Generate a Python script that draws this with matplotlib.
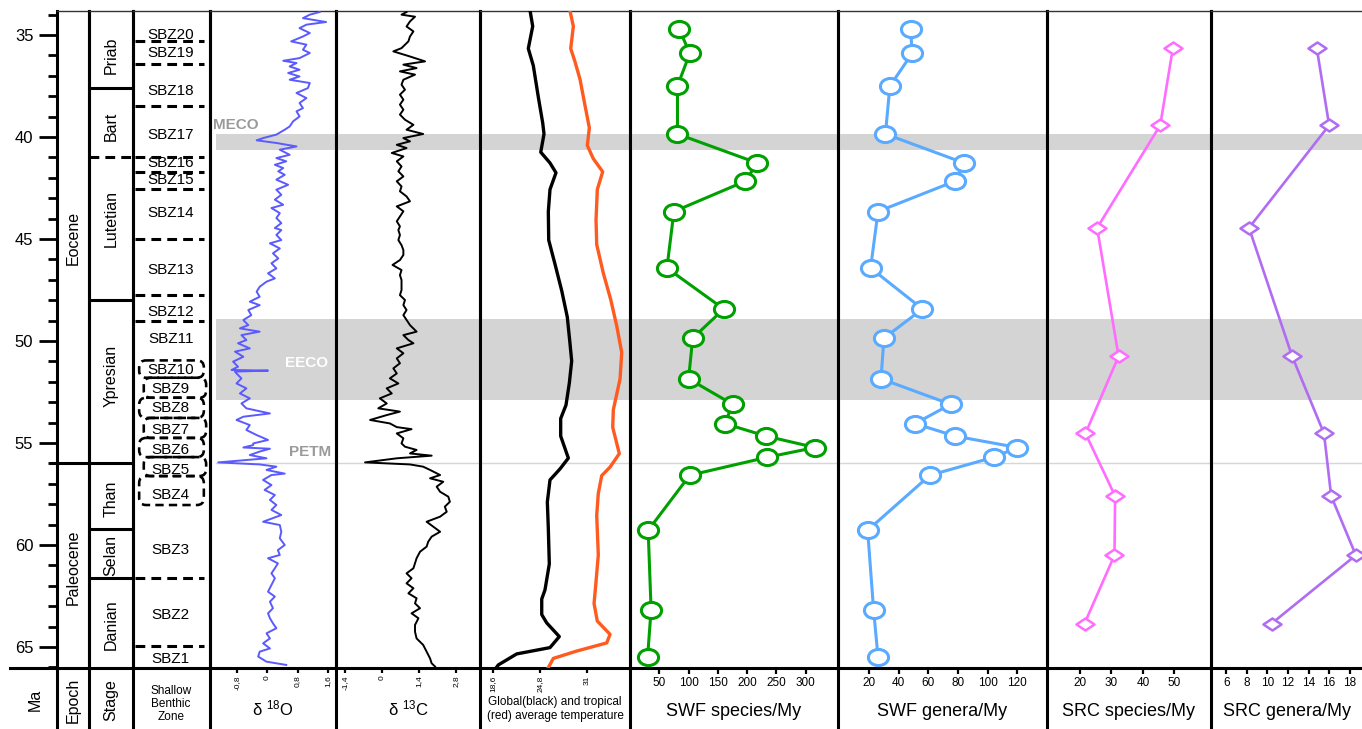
"""Paleocene-Eocene stratigraphy vs. isotopes, temperature and foraminifera turnover rates."""
import matplotlib
matplotlib.use("Agg")
import matplotlib.pyplot as plt
import numpy as np
from matplotlib.lines import Line2D
from matplotlib.patches import FancyBboxPatch
from matplotlib.path import Path

plt.rcParams["font.family"] = ["Liberation Sans", "DejaVu Sans"]
plt.rcParams["mathtext.fontset"] = "custom"
plt.rcParams["mathtext.rm"] = "Liberation Sans"

# ---------------- stratigraphy ----------------
EPOCHS = ["Eocene", "Paleocene"]
EPOCH_MID = [44.95, 61.1]
EPOCH_BOUND = 56.0
STAGES = ["Priab", "Bart", "Lutetian", "Ypresian", "Than", "Selan", "Danian"]
STAGE_MID = [35.98, 39.46, 44.0, 51.7, 57.75, 60.5, 63.9]
STAGE_BOUNDS = [37.6, 48.0, 59.2, 61.6]
STAGE_BOUND_DASHED = 41.0
SBZ_NAMES = ["SBZ20", "SBZ19", "SBZ18", "SBZ17", "SBZ16", "SBZ15", "SBZ14", "SBZ13", "SBZ12",
             "SBZ11", "SBZ10", "SBZ9", "SBZ8", "SBZ7", "SBZ6", "SBZ5", "SBZ4", "SBZ3", "SBZ2", "SBZ1"]
SBZ_MID = [34.98, 35.9, 37.75, 39.9, 41.27, 42.1, 43.7, 46.5, 48.6, 49.9,
           51.4, 52.35, 53.3, 54.35, 55.35, 56.3, 57.55, 60.25, 63.45, 65.6]
SBZ_BOUNDS = [35.3, 36.4, 38.5, 41.7, 42.55, 45.0, 47.75, 49.0, 61.6, 64.95]
SBZ_BOXES = [(50.95, 51.8), (51.8, 52.78), (52.78, 53.77), (53.77, 54.75),
             (54.75, 55.69), (55.69, 56.62), (56.62, 58.04)]
MECO = (39.85, 40.64)
EECO = (48.92, 52.89)
PETM = 56.0

# ---------------- delta 18O ----------------
d18o_age = [33.87, 34.00, 34.17, 34.36, 34.49, 34.66, 34.90, 35.07, 35.31, 35.47, 35.72, 35.88,
            36.13, 36.26, 36.37, 36.54, 36.70, 36.86, 37.03, 37.19, 37.35, 37.60, 37.84, 38.09,
            38.33, 38.58, 38.74, 38.99, 39.23, 39.48, 39.64, 39.88, 40.05, 40.16, 40.29, 40.46,
            40.62, 40.87, 41.03, 41.19, 41.36, 41.52, 41.68, 41.85, 42.09, 42.34, 42.58, 42.83,
            43.07, 43.32, 43.48, 43.73, 43.97, 44.22, 44.46, 44.56, 44.80, 45.05, 45.21, 45.46,
            45.70, 45.95, 46.19, 46.44, 46.68, 46.93, 47.09, 47.34, 47.58, 47.83, 48.07, 48.24,
            48.48, 48.73, 48.97, 49.22, 49.38, 49.54, 49.71, 49.95, 50.11, 50.36, 50.52, 50.77,
            51.01, 51.26, 51.42, 51.45, 51.50, 51.59, 51.83, 52.08, 52.32, 52.57, 52.81, 53.06,
            53.30, 53.55, 53.71, 53.87, 54.12, 54.36, 54.61, 54.85, 55.02, 55.10, 55.22, 55.28,
            55.42, 55.59, 55.75, 55.95, 56.05, 56.16, 56.32, 56.50, 56.57, 56.81, 57.06, 57.30,
            57.55, 57.79, 58.04, 58.28, 58.53, 58.86, 59.02, 59.35, 59.67, 60.00, 60.25, 60.49,
            60.65, 60.90, 61.14, 61.39, 61.63, 61.96, 62.29, 62.53, 62.78, 63.10, 63.35, 63.59,
            63.84, 64.08, 64.33, 64.58, 64.82, 65.07, 65.23, 65.47, 65.72, 65.88]
d18o_val = [1.38, 1.12, 0.94, 1.55, 1.03, 0.85, 1.12, 0.94, 0.63, 1.03, 0.94, 1.12,
            0.85, 0.42, 0.77, 0.59, 0.85, 0.55, 0.85, 0.59, 1.12, 1.07, 0.77, 1.03,
            0.85, 0.94, 0.77, 0.85, 0.68, 0.59, 0.46, 0.24, -0.11, -0.28, 0.24, 0.77,
            0.33, 0.59, 0.24, 0.50, 0.20, 0.42, 0.29, 0.46, 0.24, 0.55, 0.24, 0.37,
            0.20, 0.42, 0.11, 0.33, 0.24, 0.37, 0.20, 0.37, 0.24, 0.37, 0.07, 0.33,
            0.15, 0.29, 0.11, 0.24, 0.02, 0.20, -0.02, -0.20, -0.28, -0.20, -0.46, -0.20,
            -0.50, -0.42, -0.63, -0.50, -0.72, -0.20, -0.68, -0.55, -0.77, -0.46, -0.85, -0.63,
            -0.90, -0.77, -0.94, 0.02, -0.85, -0.81, -0.68, -0.81, -0.55, -0.72, -0.46, -0.68,
            -0.55, 0.07, -0.63, -0.81, -0.46, -0.55, -0.28, 0.02, -0.37, -0.37, -0.63, 0.07,
            -0.20, -0.46, -0.02, -1.29, -0.20, 0.24, -0.02, 0.46, 0.11, -0.11, 0.11, -0.07,
            0.20, 0.07, 0.24, 0.11, 0.37, -0.11, 0.33, 0.37, 0.33, 0.46, 0.28, 0.33,
            0.02, 0.28, 0.20, 0.11, 0.20, 0.11, 0.02, 0.20, 0.07, 0.15, 0.02, 0.07,
            0.15, 0.24, -0.02, 0.07, -0.11, 0.07, -0.20, -0.24, -0.02, 0.50]

# ---------------- delta 13C ----------------
d13c_age = [33.87, 34.00, 34.10, 34.33, 34.58, 34.82, 35.07, 35.31, 35.64, 35.80, 36.05, 36.29,
            36.45, 36.62, 36.78, 36.94, 37.19, 37.43, 37.68, 37.92, 38.17, 38.41, 38.66, 38.90,
            39.15, 39.40, 39.64, 39.85, 40.05, 40.21, 40.38, 40.54, 40.78, 40.95, 41.19, 41.44,
            41.68, 41.93, 42.17, 42.42, 42.66, 42.91, 43.15, 43.40, 43.64, 43.89, 44.13, 44.38,
            44.56, 44.80, 45.05, 45.30, 45.54, 45.78, 46.03, 46.27, 46.52, 46.77, 47.01, 47.26,
            47.50, 47.75, 47.99, 48.24, 48.48, 48.73, 48.97, 49.22, 49.54, 49.71, 49.95, 50.11,
            50.36, 50.60, 50.85, 51.09, 51.34, 51.59, 51.83, 52.08, 52.32, 52.57, 52.81, 53.06,
            53.30, 53.46, 53.63, 53.87, 54.04, 54.22, 54.32, 54.53, 54.77, 55.02, 55.18, 55.34,
            55.51, 55.62, 55.75, 55.95, 56.05, 56.16, 56.32, 56.57, 56.73, 56.90, 57.14, 57.39,
            57.63, 57.88, 58.12, 58.37, 58.61, 58.86, 59.10, 59.35, 59.59, 59.84, 60.08, 60.33,
            60.65, 60.90, 61.14, 61.39, 61.63, 61.88, 62.12, 62.37, 62.61, 62.86, 63.10, 63.35,
            63.59, 63.92, 64.25, 64.58, 64.90, 65.23, 65.56, 65.80, 65.96]
d13c_val = [0.93, 0.74, 1.25, 1.06, 0.93, 1.19, 1.06, 1.00, 0.74, 0.43, 1.06, 1.63,
            0.81, 1.31, 0.68, 1.25, 0.81, 0.74, 0.87, 0.68, 0.81, 0.68, 0.81, 0.68,
            0.87, 1.19, 0.93, 1.56, 0.81, 1.06, 0.56, 0.93, 0.37, 0.81, 0.56, 0.74,
            0.62, 0.81, 0.56, 0.74, 0.68, 0.93, 1.06, 0.56, 0.81, 0.68, 0.56, 0.68,
            0.62, 0.68, 0.62, 0.74, 0.81, 0.81, 0.68, 0.40, 0.74, 0.68, 0.74, 0.74,
            0.74, 0.68, 0.87, 0.81, 0.93, 0.81, 0.93, 1.06, 1.31, 0.81, 1.00, 1.19,
            0.56, 0.81, 0.56, 0.68, 0.43, 0.56, 0.30, 0.62, 0.18, 0.37, -0.08, 0.18,
            -0.14, 0.68, 0.18, -0.45, 0.30, 0.56, 1.12, 0.56, 0.81, 0.74, 0.87, 1.31,
            1.06, 1.88, 0.56, -0.64, 1.06, 1.56, 1.82, 2.20, 1.82, 2.32, 2.07, 2.20,
            2.51, 2.57, 2.38, 2.45, 2.20, 1.69, 1.94, 2.20, 1.88, 1.75, 1.69, 1.44,
            1.31, 1.25, 1.19, 0.93, 1.12, 0.93, 1.19, 1.00, 1.31, 1.25, 1.44, 1.12,
            1.38, 1.25, 1.25, 1.31, 1.56, 1.69, 1.82, 1.88, 2.01]

# ---------------- temperature (deg C) ----------------
tglob_age = [33.82, 34.57, 35.66, 36.5, 38.04, 39.31, 39.85, 40.74, 41.27, 41.75, 42.57, 43.65,
             45.05, 46.23, 47.54, 48.82, 50.13, 50.98, 52.06, 53.14, 53.8, 54.66, 55.74, 56.27,
             56.81, 57.89, 59.2, 60.93, 62.2, 62.65, 63.41, 63.82, 64.49, 65.03, 65.34, 65.88, 66.1]
tglob_val = [23.5, 23.84, 23.26, 23.92, 24.58, 25.16, 25.33, 24.9, 26.12, 26.91, 26.12, 25.9,
             25.95, 26.78, 27.67, 28.4, 28.76, 28.98, 28.67, 28.23, 27.53, 27.53, 28.54, 27.44,
             26.12, 25.77, 25.9, 26.03, 25.46, 25.03, 25.03, 25.69, 27.35, 26.12, 21.73, 19.3, 18.87]
ttrop_age = [33.82, 34.57, 35.66, 36.31, 37.17, 38.46, 39.55, 40.41, 41.06, 41.7, 42.57, 44.07,
             45.27, 46.67, 47.97, 49.26, 50.56, 51.86, 53.37, 54.23, 55.52, 56.18, 56.6, 57.47,
             58.55, 60.49, 61.79, 62.87, 63.73, 64.38, 64.8, 65.2, 65.56, 66.1]
ttrop_val = [28.76, 29.2, 28.85, 29.42, 30.08, 30.74, 31.31, 31.04, 31.83, 33.07, 32.36, 32.19,
             32.28, 33.15, 34.13, 34.92, 35.58, 35.36, 34.47, 34.39, 35.26, 34.04, 32.94, 32.49,
             32.28, 32.49, 32.19, 31.93, 32.36, 34.04, 33.6, 29.64, 26.56, 25.77]

# ---------------- turnover rates ----------------
swf_age = [34.7, 35.9, 37.5, 39.85, 41.27, 42.16, 43.65, 46.42, 48.43, 49.86,
           51.85, 53.1, 54.05, 54.66, 55.22, 55.7, 56.58, 59.28, 63.17, 65.5]
swf_species = [84, 102, 81, 81, 217, 197, 75, 63, 160, 107,
               100, 175, 162, 232, 316, 234, 102, 31, 36, 30]
swf_genera = [48, 49, 34, 31, 84, 78, 26, 21, 56, 30,
              28, 75, 51, 78, 120, 104, 61, 19, 23, 26]
src_age = [35.65, 39.42, 44.45, 50.75, 54.53, 57.6, 60.5, 63.85]
src_species = [49.5, 45.5, 25.5, 32.3, 21.8, 31.2, 31.0, 21.5]
src_genera = [14.8, 16.0, 8.2, 12.4, 15.5, 16.2, 18.6, 10.4]

# ---------------- layout (pixels) ----------------
W, H = 1362, 729
TOP, BOT = 11, 668
AGE_TOP, AGE_BOT = 33.82, 66.03
COLS = [57, 89, 133, 210, 336, 480, 630, 838, 1047, 1211, 1362]
BAND = "#d4d4d4"
LW = 2.2

fig = plt.figure(figsize=(W / 100, H / 100), dpi=100)


def column(x0, x1):
    ax = fig.add_axes([x0 / W, 1 - BOT / H, (x1 - x0) / W, (BOT - TOP) / H])
    ax.set_facecolor("none")
    ax.set_ylim(AGE_BOT, AGE_TOP)
    ax.set_yticks([])
    ax.set_xticks([])
    for s in ("left", "right", "bottom"):
        ax.spines[s].set_linewidth(LW)
    ax.spines["top"].set_linewidth(1.0)
    ax.spines["top"].set_color("#333333")
    return ax


axE, axS, axZ = column(57, 89), column(89, 133), column(133, 210)
axO, axC, axT = column(210, 336), column(336, 480), column(480, 630)
axSS, axSG = column(630, 838), column(838, 1047)
axRS, axRG = column(1047, 1211), column(1211, 1362)
axRG.spines["right"].set_visible(False)
for ax in (axE, axS, axZ):
    ax.set_xlim(0, 1)

# Ma axis
axE.set_yticks(range(35, 66, 5))
axE.set_yticks(range(34, 67), minor=True)
axE.tick_params(axis="y", which="major", length=13, width=2, labelsize=12, pad=4)
axE.tick_params(axis="y", which="minor", length=6.5, width=2)

dash = (0, (3.2, 2.0))
for name, y in zip(EPOCHS, EPOCH_MID):
    axE.text(0.5, y, name, rotation=90, ha="center", va="center", fontsize=11.5)
axE.axhline(EPOCH_BOUND, color="k", lw=LW)
axE.plot([-0.2, 0], [EPOCH_BOUND] * 2, color="k", lw=LW, clip_on=False)
for name, y in zip(STAGES, STAGE_MID):
    axS.text(0.5, y, name, rotation=90, ha="center", va="center", fontsize=11.5)
for y in STAGE_BOUNDS + [EPOCH_BOUND]:
    axS.axhline(y, color="k", lw=LW)
axS.axhline(STAGE_BOUND_DASHED, color="k", lw=LW, ls=dash)

# shallow benthic zones
for name, y in zip(SBZ_NAMES, SBZ_MID):
    axZ.text(0.49, y, name, ha="center", va="center", fontsize=11)
for y in SBZ_BOUNDS + [STAGE_BOUND_DASHED]:
    axZ.plot([0.02, 0.92], [y, y], color="k", lw=LW, ls=dash)
for i, (a, b) in enumerate(SBZ_BOXES):
    x0, x1 = (0.14, 0.95) if i % 2 else (0.08, 0.92)
    axZ.add_patch(FancyBboxPatch((x0, a), x1 - x0, b - a, fill=False, ec="k", lw=LW * 0.85,
                                 ls=dash, boxstyle="round,pad=0,rounding_size=0.09",
                                 mutation_aspect=3.77))

# events across the data columns
for ax in (axO, axC, axT, axSS, axSG, axRS, axRG):
    xm = 0.05 if ax is axO else 0
    ax.axhspan(*MECO, xmin=xm, color=BAND, lw=0, zorder=0)
    ax.axhspan(*EECO, xmin=xm, color=BAND, lw=0, zorder=0)
    ax.axhline(PETM, xmin=xm, color="#d6d6d6", lw=1.0, zorder=0)


def bottom_ticks(ax, ticks, labels=None, small=True):
    ax.set_xticks(ticks)
    if small:
        ax.set_xticklabels(labels, rotation=90, fontsize=6)
        ax.tick_params(axis="x", length=3.5, width=1.6, pad=2)
    else:
        ax.set_xticklabels([str(t) for t in ticks], fontsize=8.5)
        ax.tick_params(axis="x", length=4.5, width=1.6, pad=2)


axO.plot(d18o_val, d18o_age, color="#5a5aff", lw=1.4, zorder=3)
axO.set_xlim(-1.508, 1.81)
bottom_ticks(axO, [-0.8, 0, 0.8, 1.6], ["-0,8", "0", "0,8", "1,6"])
axO.text(-1.43, 39.41, "MECO", color="#9a9a9a", fontweight="bold", fontsize=11, va="center")
axO.text(1.04, 51.08, "EECO", color="white", fontweight="bold", fontsize=11,
         ha="center", va="center", zorder=4)
axO.text(1.12, 55.45, "PETM", color="#9a9a9a", fontweight="bold", fontsize=11,
         ha="center", va="center", zorder=4)

axC.plot(d13c_val, d13c_age, color="k", lw=1.4, zorder=3)
axC.set_xlim(-1.74, 3.71)
bottom_ticks(axC, [-1.4, 0, 1.4, 2.8], ["-1,4", "0", "1,4", "2,8"])

axT.plot(tglob_val, tglob_age, color="k", lw=2.4, zorder=3)
axT.plot(ttrop_val, ttrop_age, color="#ff5a1f", lw=2.4, zorder=3)
axT.set_xlim(16.89, 36.67)
bottom_ticks(axT, [18.6, 24.8, 31], ["18,6", "24,8", "31"])

circ = Path.unit_circle()
ellipse = Path(circ.vertices * [1.25, 1.0], circ.codes)
diamond = Path([(0, 1), (1.5, 0), (0, -1), (-1.5, 0), (0, 1)],
               [Path.MOVETO, Path.LINETO, Path.LINETO, Path.LINETO, Path.CLOSEPOLY])

axSS.plot(swf_species, swf_age, color="#00a000", lw=2.2, marker=ellipse, ms=14.5,
          mfc="white", mew=2.2, zorder=3)
axSS.set_xlim(0, 355)
bottom_ticks(axSS, [50, 100, 150, 200, 250, 300], small=False)

axSG.plot(swf_genera, swf_age, color="#5aaaff", lw=2.2, marker=ellipse, ms=14.5,
          mfc="white", mew=2.2, zorder=3)
axSG.set_xlim(-1, 140)
bottom_ticks(axSG, [20, 40, 60, 80, 100, 120], small=False)

axRS.plot(src_species, src_age, color="#ff6cff", lw=1.9, marker=diamond, ms=13,
          mfc="white", mew=1.8, zorder=3)
axRS.set_xlim(9.6, 61.6)
bottom_ticks(axRS, [20, 30, 40, 50], small=False)

axRG.plot(src_genera, src_age, color="#b06cf2", lw=1.9, marker=diamond, ms=13,
          mfc="white", mew=1.8, zorder=3, clip_on=False)
axRG.set_xlim(4.5, 19.2)
bottom_ticks(axRG, [6, 8, 10, 12, 14, 16, 18], small=False)

# label row: separators, base line and column titles
yb = 1 - BOT / H
for x in COLS[:-1]:
    fig.add_artist(Line2D([x / W] * 2, [0, yb], color="k", lw=LW))
fig.add_artist(Line2D([10 / W, 57 / W], [yb, yb], color="k", lw=LW))


def ftxt(x, y, s, **kw):
    fig.text(x / W, 1 - y / H, s, ha="center", va="center", **kw)


ftxt(35, 700, "Ma", rotation=90, fontsize=11.5)
ftxt(73, 700, "Epoch", rotation=90, fontsize=11.5)
ftxt(111, 700, "Stage", rotation=90, fontsize=11.5)
ftxt(171, 704, "Shallow\nBenthic\nZone", fontsize=8.5, linespacing=1.15)
ftxt(273, 708, r"δ $\mathregular{^{18}}$O", fontsize=12)
ftxt(408, 708, r"δ $\mathregular{^{13}}$C", fontsize=12)
ftxt(555, 709, "Global(black) and tropical\n(red) average temperature", fontsize=8.5,
     linespacing=1.15)
ftxt(734, 712, "SWF species/My", fontsize=13)
ftxt(942, 712, "SWF genera/My", fontsize=13)
ftxt(1129, 712, "SRC species/My", fontsize=13)
ftxt(1287, 712, "SRC genera/My", fontsize=13)

fig.savefig("out.png", dpi=100)
